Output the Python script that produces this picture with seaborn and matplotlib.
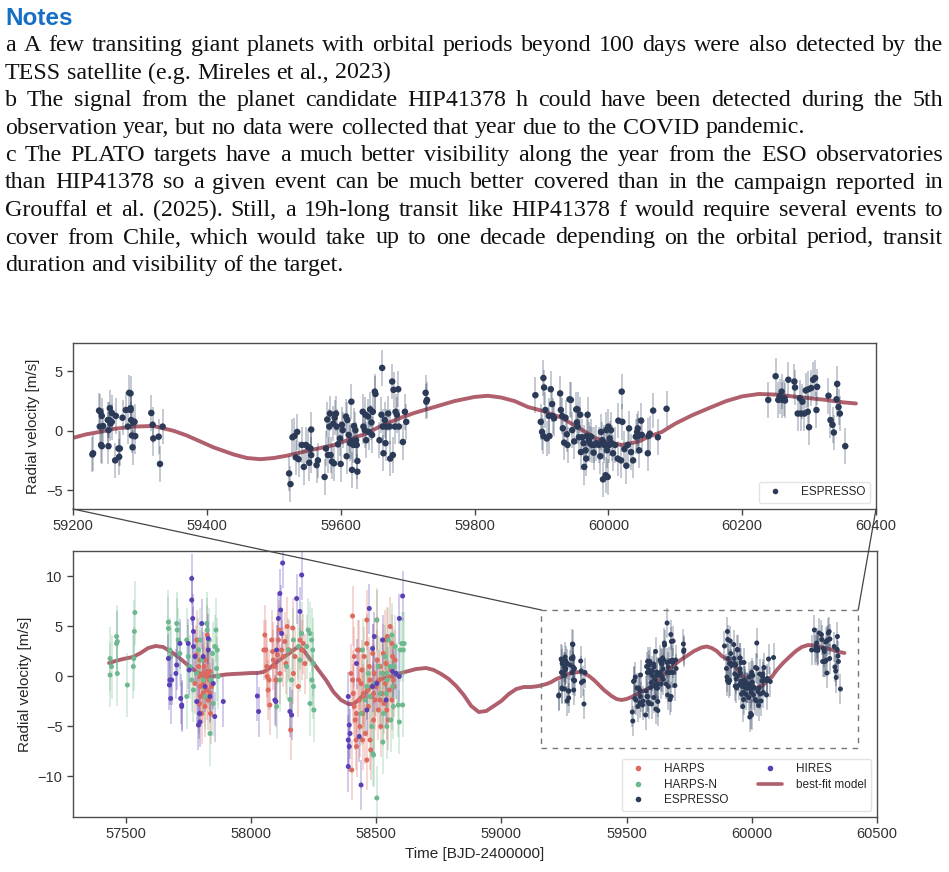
import pandas as pd
import seaborn as sns
import matplotlib.pyplot as plt
from matplotlib.lines import Line2D
from matplotlib.patches import Rectangle, ConnectionPatch

# ---- notes text (lines as they break on the page)
notes_title = "Notes"
notes_lines = [
    ("a A few transiting giant planets with orbital periods beyond 100 days were also detected by the", True),
    ("TESS satellite (e.g. Mireles et al., 2023)", False),
    ("b The signal from the planet candidate HIP41378 h could have been detected during the 5th", True),
    ("observation year, but no data were collected that year due to the COVID pandemic.", False),
    ("c The PLATO targets have a much better visibility along the year from the ESO observatories", True),
    ("than HIP41378 so a given event can be much better covered than in the campaign reported in", True),
    ("Grouffal et al. (2025). Still, a 19h-long transit like HIP41378 f would require several events to", True),
    ("cover from Chile, which would take up to one decade depending on the orbital period, transit", True),
    ("duration and visibility of the target.", False),
]

# ---- radial velocities: (BJD-2400000, RV m/s)
espresso = [
    (59229, -2.0), (59230, -1.9), (59239, 1.7), (59240, 0.35), (59241, 1.6), (59242, -1.2),
    (59243, 1.25), (59243, -1.3), (59245, 0.4), (59252, 0.9), (59253, 0.05), (59254, 0.9),
    (59255, 1.9), (59256, 0.6), (59258, 1.5), (59258, 0.75), (59253, -1.3), (59263, -2.5),
    (59264, 1.25), (59268, -1.5), (59269, -2.2), (59270, -1.5), (59274, 1.1), (59279, 1.75),
    (59282, 0.35), (59284, 3.2), (59286, 1.75), (59286, 1.9), (59287, 0.9), (59289, -1.4),
    (59290, 0.7), (59293, -0.45), (59292, 0.75), (59286, 3.15), (59288, -0.4), (59317, 1.5),
    (59319, 0.5), (59320, -0.65), (59328, -0.5), (59330, -2.8), (59334, 0.35),
    (59523, -3.6), (59525, -4.5), (59528, -0.55), (59531, -0.45), (59533, -2.25), (59535, -0.1),
    (59537, -2.4), (59542, -1.2), (59545, -3.05), (59548, -1.2), (59551, -1.35), (59553, -2.7),
    (59555, -1.5), (59556, 0.1), (59556, -2.05), (59564, -2.9), (59566, -2.5), (59576, -3.9),
    (59578, -1.5), (59580, 0.95), (59581, -2.05), (59583, 0.35), (59584, 1.45), (59585, -2.05),
    (59587, -2.6), (59589, 0.6), (59590, -2.75), (59591, 1.1), (59593, 1.45), (59594, 0.35),
    (59596, -1.15), (59599, -0.65), (59600, -2.8), (59602, 0.5), (59603, 0.05), (59608, 1.2),
    (59609, -2.15), (59610, 0.9), (59612, -0.35), (59614, -1.05), (59616, 2.45), (59616, -0.85),
    (59617, -3.3), (59619, -1.2), (59620, 0.4), (59622, 0.05), (59623, -0.8), (59624, -1.2),
    (59625, -2.55), (59625, -3.45), (59633, 1.6), (59634, 0.35), (59636, 0.05), (59637, 1.35),
    (59638, -0.8), (59641, 1.2), (59642, -0.1), (59644, 1.8), (59646, 0.7), (59647, -0.35),
    (59648, 1.6), (59651, 3.3), (59652, 3.1), (59658, -0.8), (59661, 1.35), (59662, 5.3),
    (59663, 0.35), (59664, -1.9), (59666, 0.9), (59667, -1.05), (59668, 0.35), (59671, 1.45),
    (59673, 0.35), (59674, -2.35), (59677, 4.15), (59678, -2.05), (59679, 3.45), (59681, 0.35),
    (59682, 1.6), (59684, 1.35), (59686, 3.5), (59687, 0.35), (59693, -0.95), (59696, 1.6),
    (59698, 0.75), (59727, 3.2), (59728, 2.45), (59729, 2.6),
    (59891, 3.0), (59903, 4.45), (59904, 3.65), (59906, 1.75), (59899, 0.75), (59901, -0.1),
    (59903, -0.45), (59908, -0.65), (59912, -0.45), (59911, 1.25), (59914, 3.5), (59916, 2.25),
    (59917, 1.25), (59919, 1.05), (59928, 3.15), (59929, 1.75), (59931, 1.25), (59932, 0.2),
    (59934, -1.0), (59936, 1.1), (59938, -0.3), (59939, -1.2), (59942, 2.65), (59944, 2.6),
    (59946, 0.05), (59949, -0.9), (59952, 1.8), (59953, 0.7), (59954, 1.8), (59954, 0.35),
    (59956, -0.55), (59958, 1.35), (59959, -1.8), (59961, -0.55), (59963, -1.05), (59964, -3.05),
    (59966, -1.65), (59967, -2.35), (59968, -0.45), (59969, 1.35), (59971, -0.8), (59973, -1.1),
    (59974, -0.5), (59976, -1.2), (59978, -1.85), (59979, -1.2), (59982, -1.05), (59986, -1.2),
    (59988, -2.15), (59989, -0.1), (59991, -0.8), (59992, -4.1), (59993, -1.0), (59994, -1.2),
    (59996, -3.75), (59997, 0.05), (59998, -1.65), (59999, -3.9), (60000, 0.35), (60001, -1.2),
    (60002, -0.65), (60004, 0.05), (60005, -1.05), (60007, -1.9), (60010, -1.2), (60014, -2.35),
    (60015, 0.85), (60019, -2.5), (60020, 3.3), (60021, 0.75), (60024, -1.55), (60027, -2.95),
    (60029, -1.2), (60031, 0.2), (60034, -1.8), (60037, -2.5), (60041, -0.5), (60043, -0.1),
    (60044, 0.2), (60045, -0.45), (60046, -1.65), (60049, 0.85), (60050, -0.35), (60059, -1.9),
    (60060, -0.45), (60062, -0.25), (60067, 1.7), (60074, -0.55), (60087, 1.85),
    (60239, 2.6), (60250, 4.6), (60254, 2.6), (60256, 2.9), (60259, 3.3), (60260, 2.6),
    (60263, 2.75), (60264, 2.55), (60269, 4.3), (60278, 4.15), (60279, 3.65), (60283, 1.45),
    (60286, 2.75), (60288, 1.45), (60290, 2.45), (60293, 1.45), (60295, 3.4), (60298, 1.6),
    (60299, 3.5), (60300, 0.3), (60303, 3.6), (60306, 4.3), (60309, 4.45), (60311, 1.75),
    (60312, 3.7), (60329, 2.95), (60332, 0.9), (60335, 0.5), (60337, -0.15), (60341, 2.65),
    (60342, 3.95), (60344, 2.0), (60346, 1.45), (60354, -1.3),
]

harps = [
    (57784, 3.6), (57791, 0.95), (57795, -0.05), (57797, -1.05), (57800, -2.05), (57804, -3.75),
    (57808, 0.25), (57810, -0.75), (57813, 0.95), (57817, -3.05), (57821, -0.05), (57824, -1.4),
    (57826, 4.1), (57830, -2.4), (57834, -0.4), (57837, 0.45), (57839, -3.75), (57843, -1.05),
    (57777, -0.75), (57781, 2.1), (57797, 1.6), (57817, 1.6), (57824, 0.45), (57810, -1.7),
    (57830, 0.25), (57837, -1.7), (57795, -2.75),
    (58056, 4.1), (58059, 2.6), (58063, 0.95), (58065, -0.05), (58069, -1.4), (58076, -2.9),
    (58083, 3.6), (58087, 2.45), (58090, 1.6), (58096, 0.95), (58100, -0.4), (58106, 2.1),
    (58110, 3.6), (58114, 4.6), (58116, 0.25), (58123, 2.6), (58130, 1.95), (58136, 3.45),
    (58140, 1.25), (58145, 4.95), (58153, 2.6), (58159, -5.4), (58167, 4.8), (58170, 0.25),
    (58176, 1.95), (58190, -1.05), (58196, 3.6), (58203, 2.6), (58209, 3.25), (58216, 1.25),
    (58052, 2.6), (58073, -0.4),
    (58400, 0.25), (58406, 6.0), (58409, -1.75), (58413, -3.05), (58417, -4.4), (58420, -6.4),
    (58422, -7.05), (58403, -9.4), (58426, 2.6), (58430, -0.4), (58433, -2.4), (58436, -5.05),
    (58440, -0.75), (58443, 0.6), (58446, -3.75), (58449, -1.75), (58453, 1.95), (58457, -5.75),
    (58463, 5.6), (58463, -8.4), (58465, -1.4), (58469, -3.05), (58473, 0.95), (58476, -0.4),
    (58479, -7.4), (58483, -2.05), (58487, 2.25), (58490, -4.4), (58492, 0.25), (58496, -2.4),
    (58500, -1.05), (58503, 5.6), (58505, 1.6), (58509, -3.4), (58513, -0.4), (58516, 0.95),
    (58519, -5.05), (58523, -1.75), (58527, 0.25), (58529, 2.25), (58532, -2.75), (58536, -0.75),
    (58540, 1.25), (58543, -3.4), (58545, 3.95), (58549, -0.05), (58553, -1.4), (58556, 4.95),
    (58559, 0.6), (58563, -2.4), (58566, 1.95), (58569, -0.4), (58572, -1.05), (58576, 1.6),
    (58422, -3.75), (58446, -6.4), (58476, -6.4), (58463, 3.25), (58406, -0.4), (58413, 1.95),
    (58433, 2.6), (58453, -2.05), (58490, -1.75), (58516, -2.4), (58536, 3.6), (58549, -4.4),
    (58563, 3.25),
]

harpsn = [
    (57438, 1.75), (57438, 0.1), (57444, 0.95), (57464, 3.95), (57467, 3.45), (57467, 0.25),
    (57464, 3.25), (57507, -0.9), (57531, 0.95), (57533, 1.75), (57535, 4.45), (57537, 6.35),
    (57671, 5.4), (57671, 4.75), (57677, 2.6), (57680, 1.95), (57704, 5.25), (57706, 4.6),
    (57710, 3.6), (57717, 2.25), (57744, 3.6), (57750, 1.95), (57757, 0.95), (57764, -0.4),
    (57771, -1.4), (57784, 0.25), (57791, 2.6), (57797, 3.6), (57804, 1.6), (57810, -0.4),
    (57817, -2.05), (57824, 5.25), (57826, 4.6), (57834, 3.6), (57837, -5.75), (57839, -0.4),
    (57847, 2.25), (57856, 2.95), (57861, 4.6), (57863, 0.75), (57866, 2.6), (57870, -0.05),
    (57850, -2.75), (57744, -2.05),
    (58143, 0.95), (58149, 2.6), (58156, -2.35), (58163, -0.4), (58190, 2.95), (58196, 1.6),
    (58223, 2.95), (58229, 4.6), (58236, 4.25), (58243, 3.6), (58247, 2.6), (58250, 1.25),
    (58243, -0.4), (58250, -1.05), (58236, -2.75), (58252, -3.4), (58203, 4.25), (58103, -3.05),
    (58116, -0.4), (58170, 3.6),
    (58446, 2.6), (58457, -2.4), (58469, 0.25), (58476, -2.05), (58483, -5.05), (58487, -7.75),
    (58490, -7.9), (58496, -0.75), (58503, -12.2), (58503, 5.6), (58509, 0.95), (58516, -1.75),
    (58523, 0.25), (58527, -6.6), (58529, -3.75), (58536, 1.95), (58540, -1.75), (58543, -5.05),
    (58545, -0.4), (58549, 3.6), (58556, 0.95), (58559, -4.4), (58563, 4.1), (58566, -1.05),
    (58569, -3.05), (58576, 2.95), (58583, 0.25), (58589, -2.9), (58593, -4.6), (58596, 2.6),
    (58603, 3.25), (58609, 2.6), (58606, -2.9), (58612, 3.25), (58463, -1.05), (58440, -3.75),
    (58543, 0.25), (58572, 0.95),
]

hires = [
    (57671, 1.75), (57675, -0.9), (57677, -0.4), (57680, -2.25), (57684, -0.4), (57701, 0.25),
    (57704, 1.1), (57717, 3.25), (57720, -2.25), (57724, -3.05), (57724, -2.9), (57750, 3.25),
    (57754, 0.6), (57764, 9.75), (57764, 7.6), (57768, 5.75), (57771, 4.45), (57771, 2.95),
    (57777, 1.95), (57784, -2.55), (57791, -4.9), (57795, -3.75), (57804, 5.25), (57810, 1.95),
    (57817, -1.05), (57830, 2.6), (57837, -2.05), (57850, -0.75), (57856, -4.05), (57890, -2.55),
    (57830, 3.75), (57797, -4.6),
    (58026, -2.0), (58031, -3.55), (58116, 8.25), (58127, 11.3), (58110, 5.75), (58103, 2.6),
    (58096, -2.4), (58100, -2.55), (58156, -3.55), (58163, -3.9), (58183, 7.75), (58196, 6.45),
    (58203, 10.1), (58123, 4.25), (58119, 6.6),
    (58389, -2.05), (58393, -4.9), (58396, -5.75), (58389, -6.4), (58393, -7.05), (58389, -9.05),
    (58440, -10.9), (58433, -6.05), (58473, 6.75), (58486, 2.75), (58486, -1.05), (58493, 3.95),
    (58526, 3.6), (58540, -2.4), (58580, 0.25), (58593, 5.75), (58606, 8.0), (58593, -0.05),
    (58566, 0.45), (58422, 1.25), (58463, -3.4), (58503, -0.75),
]

# typical error bar half-lengths [m/s]
err = {"HARPS": 3.0, "HARPS-N": 3.2, "HIRES": 2.5, "ESPRESSO": 1.5}

# best-fit model curve
model_t = [57434, 57460, 57490, 57530, 57560, 57590, 57620, 57650, 57689, 57720, 57757, 57790,
           57824, 57860, 57900, 57930, 57970, 58000, 58025, 58050, 58070, 58100, 58125, 58150,
           58170, 58190, 58210, 58230, 58250, 58270, 58300, 58330, 58360, 58390, 58410, 58430,
           58460, 58490, 58520, 58550, 58580, 58600, 58630, 58660, 58700, 58730, 58760, 58790,
           58820, 58850, 58880, 58910, 58940, 58970, 59000, 59030, 59060, 59090, 59120, 59150,
           59180, 59200, 59220, 59240, 59260, 59290, 59320, 59350, 59370, 59390, 59410, 59440,
           59460, 59480, 59500, 59520, 59550, 59590, 59620, 59640, 59660, 59690, 59710, 59740,
           59770, 59800, 59820, 59840, 59860, 59880, 59900, 59930, 59960, 59980, 60000, 60020,
           60046, 60060, 60080, 60100, 60125, 60150, 60176, 60200, 60225, 60250, 60275, 60300,
           60325, 60350, 60370]
model_rv = [1.3, 1.5, 1.7, 1.9, 2.3, 2.8, 3.0, 2.9, 2.3, 1.7, 0.9, 0.3,
            -0.1, 0.0, 0.15, 0.2, 0.25, 0.3, 0.3, 0.4, 0.7, 1.3, 1.8, 2.2,
            2.6, 2.9, 2.6, 1.9, 1.3, 0.6, -0.4, -1.6, -2.4, -2.8, -2.8, -2.4,
            -1.6, -0.8, -0.3, -0.1, 0.1, 0.3, 0.5, 0.7, 0.8, 0.6, 0.2, -0.3,
            -1.0, -1.9, -3.0, -3.6, -3.5, -3.0, -2.5, -1.8, -1.3, -1.1, -1.1, -1.0,
            -0.8, -0.6, -0.3, -0.1, 0.15, 0.35, 0.4, 0.0, -0.4, -0.9, -1.4, -2.0,
            -2.3, -2.4, -2.3, -2.1, -1.7, -1.2, -0.6, -0.2, 0.4, 1.1, 1.5, 2.0,
            2.5, 2.85, 2.95, 2.8, 2.5, 2.0, 1.7, 1.1, 0.1, -0.6, -1.0, -1.2,
            -0.9, -0.5, -0.1, 0.6, 1.3, 1.9, 2.5, 2.9, 3.1, 3.05, 2.9, 2.75,
            2.6, 2.4, 2.3]

colors = {"HARPS": "#DC6A5E", "HARPS-N": "#6DB88E", "ESPRESSO": "#2B3A57", "HIRES": "#5A3FB5"}
model_color = "#B05F6D"

frames = []
for name, pts in [("HARPS", harps), ("HARPS-N", harpsn), ("HIRES", hires), ("ESPRESSO", espresso)]:
    d = pd.DataFrame(pts, columns=["time", "rv"])
    d["inst"] = name
    frames.append(d)
df = pd.concat(frames, ignore_index=True)
model = pd.DataFrame({"time": model_t, "rv": model_rv})

sns.set_theme(style="ticks")
plt.rcParams["font.family"] = ["Liberation Sans", "DejaVu Sans"]
plt.rcParams["axes.edgecolor"] = "#4d4d4d"
plt.rcParams["axes.linewidth"] = 1.0
plt.rcParams["xtick.color"] = "#444444"
plt.rcParams["ytick.color"] = "#444444"
plt.rcParams["xtick.labelcolor"] = "#333333"
plt.rcParams["ytick.labelcolor"] = "#333333"

W, H = 949, 872
fig = plt.figure(figsize=(W / 100, H / 100), dpi=100)
renderer = fig.canvas.get_renderer()

# notes block, justified by hand word by word
fig.text(5 / W, 1 - 25 / H, notes_title, fontsize=17.5, fontweight="bold",
         color="#1570C5", va="baseline", family="Liberation Sans")
body_size = 17.3
for i, (line, justify) in enumerate(notes_lines):
    y = 1 - (51 + i * 27.5) / H
    words = line.split(" ")
    objs = [fig.text(0, y, w, fontsize=body_size, family="Liberation Serif",
                     va="baseline", color="#111111") for w in words]
    widths = [o.get_window_extent(renderer).width for o in objs]
    if justify:
        gap = (938 - sum(widths)) / (len(words) - 1)
    else:
        gap = 0.25 * body_size * 100 / 72
    x = 5
    for o, wd in zip(objs, widths):
        o.set_x(x / W)
        x += wd + gap

ax_top = fig.add_axes([73 / W, 1 - 509 / H, 803 / W, 166 / H])
ax_bot = fig.add_axes([73 / W, 1 - 817 / H, 804 / W, 266 / H])


def draw(ax, data, size, insts, bar_alpha):
    sns.lineplot(data=model, x="time", y="rv", color=model_color, lw=2.8, ax=ax, zorder=1)
    for name in insts:
        sub = data[data["inst"] == name]
        ax.errorbar(sub["time"], sub["rv"], yerr=err[name], fmt="none",
                    ecolor=colors[name], elinewidth=1.1, alpha=bar_alpha, zorder=2)
        sns.scatterplot(data=sub, x="time", y="rv", color=colors[name], s=size,
                        edgecolor="none", ax=ax, zorder=3)


draw(ax_top, df, 22, ["ESPRESSO"], 0.35)
draw(ax_bot, df, 13, ["HARPS", "HARPS-N", "HIRES", "ESPRESSO"], 0.35)

ax_top.set_xlim(59200, 60400)
ax_top.set_ylim(-6.6, 7.4)
ax_top.set_xticks(range(59200, 60401, 200))
ax_top.set_yticks([-5, 0, 5])
ax_top.set_xlabel("")
ax_top.set_ylabel("Radial velocity [m/s]", fontsize=11)

ax_bot.set_xlim(57290, 60500)
ax_bot.set_ylim(-14.1, 12.5)
ax_bot.set_xticks(range(57500, 60501, 500))
ax_bot.set_yticks([-10, -5, 0, 5, 10])
ax_bot.set_xlabel("Time [BJD-2400000]", fontsize=11)
ax_bot.set_ylabel("Radial velocity [m/s]", fontsize=11)

for ax in (ax_top, ax_bot):
    ax.tick_params(labelsize=10.5, length=4, width=1)
    for s in ax.spines.values():
        s.set_visible(True)

# zoom box and connectors
ax_bot.add_patch(Rectangle((59160, -7.2), 1265, 13.8, fill=False, ls=(0, (4, 4)),
                           lw=1.0, edgecolor="#777777", zorder=4))
for xa, xb in [(59200, 59160), (60400, 60425)]:
    con = ConnectionPatch(xyA=(xa, -6.6), coordsA=ax_top.transData,
                          xyB=(xb, 6.6), coordsB=ax_bot.transData,
                          color="#444444", lw=0.9)
    fig.add_artist(con)


def dot(name):
    return Line2D([], [], marker="o", ls="none", color=colors[name], markersize=3, label=name)


ax_top.legend(handles=[dot("ESPRESSO")], loc="lower right", fontsize=8.5,
              frameon=True, edgecolor="#dddddd", handletextpad=1.2)
ax_bot.legend(handles=[dot("HARPS"), dot("HARPS-N"), dot("ESPRESSO"), dot("HIRES"),
                       Line2D([], [], color=model_color, lw=2.6, label="best-fit model")],
              ncol=2, loc="lower right", fontsize=8.5, frameon=True, edgecolor="#dddddd",
              columnspacing=2.5, handletextpad=1.2, labelspacing=0.3)

fig.savefig("out.png", dpi=100)
